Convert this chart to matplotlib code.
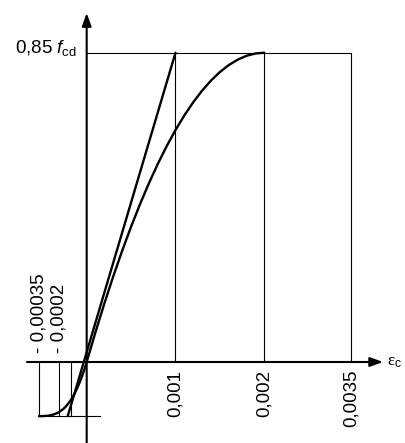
import numpy as np
import matplotlib.pyplot as plt

plt.rcParams['font.family'] = ['Liberation Sans', 'DejaVu Sans']
plt.rcParams['mathtext.fontset'] = 'custom'
plt.rcParams['mathtext.rm'] = 'Liberation Sans'
plt.rcParams['mathtext.it'] = 'Liberation Sans:italic'

# strain ticks (diagram is schematic, not to scale)
pos_ticks = [0.001, 0.002, 0.0035]
pos_labels = ["0,001", "0,002", "0,0035"]
neg_ticks = [-0.00035, -0.0002]
neg_labels = ["- 0,00035", "- 0,0002"]
neg_mark = -0.000117         # unlabeled vertical under the axis
tension_level = -0.175       # stress level of the bottom line (fraction of 0.85 fcd)

# parabola branch (compression), stress as fraction of 0.85 fcd
comp_strain = [0.0, 0.0001, 0.0002, 0.0003, 0.0004, 0.0005, 0.0006, 0.0007,
               0.0008, 0.0009, 0.001, 0.0011, 0.0012, 0.0013, 0.0014, 0.0015,
               0.0016, 0.0017, 0.0018, 0.0019, 0.002]
comp_stress = [0.0, 0.0975, 0.19, 0.2775, 0.36, 0.4375, 0.51, 0.5775, 0.64,
               0.6975, 0.75, 0.7975, 0.84, 0.8775, 0.91, 0.9375, 0.96, 0.9775,
               0.99, 0.9975, 1.0]

# tension branch
ten_strain = [0.0, -0.0000175, -0.000035, -0.0000525, -0.00007, -0.0000875,
              -0.000105, -0.0001225, -0.00014, -0.0001575, -0.000175,
              -0.00021, -0.000245, -0.00028, -0.000315, -0.00035]
ten_stress = [0.0, -0.025, -0.047, -0.067, -0.085, -0.101, -0.115, -0.127,
              -0.137, -0.146, -0.153, -0.164, -0.170, -0.1735, -0.1748, -0.175]

# tangent (linear) line
lin_strain = [-0.000139, 0.001]
lin_stress = [tension_level, 1.0]

bottom_end = 0.00015

# piecewise scale so the strain axis looks like the drawing
scale_strain = [-0.0010, 0.0, 0.002, 0.0035, 0.006]
scale_pos = [-136.3, 0.0, 177.6, 264.3, 408.8]


def fwd(e):
    return np.interp(e, scale_strain, scale_pos)


def inv(p):
    return np.interp(p, scale_pos, scale_strain)


fig = plt.figure(figsize=(4.05, 4.43), dpi=100)
ax = fig.add_axes([0, 0, 1, 1])
ax.set_xscale('function', functions=(fwd, inv))
ax.set_xlim(-0.000636, 0.004434)
ax.set_ylim(-0.2619, 1.1704)
ax.axis('off')

thin = dict(color='black', lw=0.8)

# top rectangle line and verticals
ax.plot([0, pos_ticks[-1]], [1, 1], **thin)
for e in pos_ticks:
    ax.plot([e, e], [0, 1], **thin)
for e in neg_ticks + [neg_mark]:
    ax.plot([e, e], [0, tension_level], **thin)
ax.plot([neg_ticks[0], bottom_end], [tension_level, tension_level], **thin)

# axes with arrows
arr = dict(arrowstyle='-|>,head_length=0.55,head_width=0.2', color='black',
           lw=1.5, mutation_scale=14, shrinkA=0, shrinkB=0)
ax.annotate('', xy=(0.004054, 0), xytext=(-0.000438, 0), arrowprops=arr)
ax.annotate('', xy=(0, 1.128), xytext=(0, -0.3), arrowprops=arr)

# curves
ax.plot(comp_strain, comp_stress, color='black', lw=1.7, solid_capstyle='round')
ax.plot(ten_strain, ten_stress, color='black', lw=1.7, solid_capstyle='round')
ax.plot(lin_strain, lin_stress, color='black', lw=1.7, solid_capstyle='round')

# labels
fs = 13.5
ax.annotate("0,85 $f_{\\mathrm{cd}}$", xy=(0, 1), xytext=(-7, 0),
            textcoords='offset points', ha='right', va='baseline', fontsize=fs)
ax.annotate("ε$_{\\mathrm{c}}$", xy=(0.004054, 0), xytext=(3, 0),
            textcoords='offset points', ha='left', va='center', fontsize=fs - 1,
            family=['Liberation Serif', 'DejaVu Serif'])
for e, lab in zip(pos_ticks, pos_labels):
    ax.text(e, -0.025, lab, rotation=90, ha='center', va='top', fontsize=fs)
for e, lab in zip(neg_ticks, neg_labels):
    ax.text(e, 0.029, lab, rotation=90, ha='center', va='bottom', fontsize=fs)

fig.savefig('out.png', dpi=100)
